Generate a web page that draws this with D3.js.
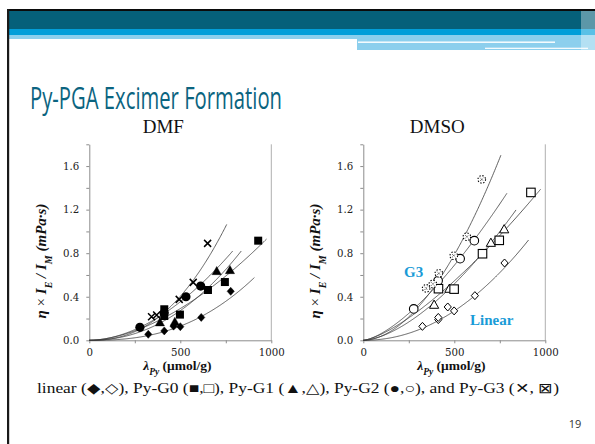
<!DOCTYPE html>
<html><head><meta charset="utf-8">
<script src="https://cdn.jsdelivr.net/npm/d3@7"></script>
<style>body{margin:0;background:#fff}svg{display:block}</style>
</head><body>
<svg id="slide" width="595" height="444"></svg>
<script>
// ---- data: DMF (filled markers) ----
const dmfLinearX = [324, 412, 463, 500, 615, 777];
const dmfLinearY = [0.055, 0.086, 0.13, 0.125, 0.21, 0.45];
const dmfG0X = [412, 412, 498, 652, 745, 928];
const dmfG0Y = [0.285, 0.223, 0.236, 0.462, 0.535, 0.915];
const dmfG1X = [388, 470, 700, 773];
const dmfG1Y = [0.165, 0.17, 0.636, 0.645];
const dmfG2X = [278, 411, 531, 612];
const dmfG2Y = [0.119, 0.25, 0.40, 0.498];
const dmfG3X = [342, 370, 494, 571, 650];
const dmfG3Y = [0.217, 0.233, 0.376, 0.532, 0.89];

// ---- data: DMSO (open markers) ----
const dmsoLinearX = [325, 412, 412, 464, 499, 613, 776];
const dmsoLinearY = [0.128, 0.19, 0.21, 0.306, 0.27, 0.41, 0.71];
const dmsoG0X = [413, 499, 655, 747, 921];
const dmsoG0Y = [0.474, 0.47, 0.795, 0.918, 1.358];
const dmsoG1X = [389, 473, 701, 774];
const dmsoG1Y = [0.327, 0.474, 0.896, 1.02];
const dmsoG2X = [277, 411, 532, 610];
const dmsoG2Y = [0.288, 0.548, 0.75, 0.915];
const dmsoG3X = [345, 382, 415, 497, 569, 651];
const dmsoG3Y = [0.477, 0.517, 0.615, 0.777, 0.951, 1.478];

// power-law trendlines through the origin, order: linear, G0, G1, G2, G3
// each given by its end point (x, y) and exponent n:  y(x) = yEnd·(x/xEnd)^n
const dmfTrendEndX = [907, 974, 835, 788, 755];
const dmfTrendEndY = [0.576, 0.93, 0.82, 0.82, 1.064];
const dmfTrendN = [2.5, 1.74, 2.15, 1.85, 2.35];
const dmsoTrendEndX = [908, 974, 839, 789, 756];
const dmsoTrendEndY = [0.921, 1.387, 1.197, 1.35, 1.70];
const dmsoTrendN = [2.06, 1.40, 1.62, 1.476, 1.87];

const xTickValues = [0, 250, 500, 750, 1000];
const xTickLabels = ["0", "", "500", "", "1000"];
const yTickValues = [0, 0.2, 0.4, 0.6, 0.8, 1.0, 1.2, 1.4, 1.6, 1.8];
const yTickLabels = ["0.0", "", "0.4", "", "0.8", "", "1.2", "", "1.6", ""];

const svg = d3.select("#slide");
const serif = "'DejaVu Serif', Georgia, serif";
const times = "'Liberation Serif', 'Times New Roman', serif";

// ---- slide header bands ----
const hdr = svg.append("g");
hdr.append("rect").attr("x", 7).attr("y", 9).attr("width", 588).attr("height", 2.2).attr("fill", "#0b0b0b");
hdr.append("rect").attr("x", 7).attr("y", 11).attr("width", 588).attr("height", 18).attr("fill", "#05607a");
hdr.append("rect").attr("x", 7).attr("y", 29).attr("width", 588).attr("height", 6).attr("fill", "#029ed9");
hdr.append("rect").attr("x", 9).attr("y", 35).attr("width", 348).attr("height", 4).attr("fill", "#8ccfed");
hdr.append("rect").attr("x", 357).attr("y", 35).attr("width", 238).attr("height", 15).attr("fill", "#8ccfed");
hdr.append("rect").attr("x", 358).attr("y", 41.5).attr("width", 197).attr("height", 1.4).attr("fill", "#ffffff");
hdr.append("rect").attr("x", 485).attr("y", 47.7).attr("width", 103).attr("height", 1.2).attr("fill", "#ffffff");
hdr.append("rect").attr("x", 581).attr("y", 11).attr("width", 14).attr("height", 39).attr("fill", "#ffffff").attr("opacity", 0.35);
// left page edge
svg.append("rect").attr("x", 7).attr("y", 9).attr("width", 2.2).attr("height", 435).attr("fill", "#1a1a1a");

// ---- title ----
svg.append("text").attr("x", 30).attr("y", 109)
  .attr("font-family", "'Liberation Sans Narrow', 'Open Sans', 'Noto Sans', sans-serif").attr("font-size", 31)
  .attr("textLength", 252).attr("lengthAdjust", "spacingAndGlyphs")
  .attr("fill", "#0b6480").text("Py-PGA Excimer Formation");

// ---- markers ----
function marker(g, kind, open, x, y) {
  const fill = open ? "#fff" : "#000";
  if (kind === 0) {
    g.append("path").attr("d", `M${x},${y-4}L${x+3.6},${y}L${x},${y+4}L${x-3.6},${y}Z`)
      .attr("fill", fill).attr("stroke", "#000").attr("stroke-width", open ? 1 : 0.5);
  } else if (kind === 1) {
    const s = open ? 8.5 : 8;
    g.append("rect").attr("x", x - s/2).attr("y", y - s/2).attr("width", s).attr("height", s)
      .attr("fill", fill).attr("stroke", "#000").attr("stroke-width", open ? 1.1 : 0);
  } else if (kind === 2) {
    g.append("path").attr("d", `M${x},${y-4.6}L${x+4.6},${y+3.6}L${x-4.6},${y+3.6}Z`)
      .attr("fill", fill).attr("stroke", "#000").attr("stroke-width", open ? 1 : 0.4);
  } else if (kind === 3) {
    g.append("circle").attr("cx", x).attr("cy", y).attr("r", open ? 4.3 : 4.6)
      .attr("fill", fill).attr("stroke", "#000").attr("stroke-width", open ? 1.1 : 0);
  } else {
    if (!open) {
      g.append("path").attr("d", `M${x-3.5},${y-3.5}L${x+3.5},${y+3.5}M${x-3.5},${y+3.5}L${x+3.5},${y-3.5}`)
        .attr("stroke", "#000").attr("stroke-width", 1.5).attr("fill", "none");
    } else {
      g.append("circle").attr("cx", x).attr("cy", y).attr("r", 3.8)
        .attr("fill", "#fff").attr("stroke", "#000").attr("stroke-width", 1.1)
        .attr("stroke-dasharray", "1.4,1.6");
      g.append("path").attr("d", `M${x-1.6},${y-1.6}L${x+1.6},${y+1.6}M${x-1.6},${y+1.6}L${x+1.6},${y-1.6}`)
        .attr("stroke", "#000").attr("stroke-width", 0.8).attr("stroke-dasharray", "1,1").attr("fill", "none");
    }
  }
}

function panel(opts) {
  const x = d3.scaleLinear().domain([0, 1000]).range([opts.left, opts.left + 182]);
  const y = d3.scaleLinear().domain([0, 1.8]).range([340.3, 144.3]);
  const g = svg.append("g");

  // plot frame: right edge
  g.append("line").attr("x1", x(1000)).attr("x2", x(1000)).attr("y1", y(1.8)).attr("y2", y(0))
    .attr("stroke", "#b0b0b0").attr("stroke-width", 1);

  const ax = g.append("g").attr("transform", `translate(0,${y(0)})`)
    .call(d3.axisBottom(x).tickValues(xTickValues).tickSize(3).tickSizeOuter(0)
      .tickFormat((d, i) => xTickLabels[i]));
  const ay = g.append("g").attr("transform", `translate(${x(0)},0)`)
    .call(d3.axisLeft(y).tickValues(yTickValues).tickSize(3).tickSizeOuter(0)
      .tickFormat((d, i) => yTickLabels[i]));
  [ax, ay].forEach(a => {
    a.select(".domain").attr("stroke", "#8c8c8c");
    a.selectAll(".tick line").attr("stroke", "#8c8c8c");
    a.selectAll("text").attr("font-family", serif).attr("font-size", 10.2).attr("fill", "#222");
  });
  ax.selectAll("text").attr("dy", "0.95em");
  ay.selectAll("text").attr("dx", "-0.4em");

  // trendlines
  const line = d3.line().x(d => x(d[0])).y(d => y(d[1]));
  for (let k = 0; k < 5; k++) {
    const xe = opts.endX[k], ye = opts.endY[k], n = opts.n[k];
    const pts = d3.range(0, 201).map(i => {
      const xv = xe * i / 200;
      return [xv, ye * Math.pow(xv / xe, n)];
    });
    g.append("path").attr("d", line(pts)).attr("fill", "none")
      .attr("stroke", "#3a3a3a").attr("stroke-width", 0.8);
  }

  // markers (G2 first so overlapping squares sit above it)
  const order = [3, 0, 2, 1, 4];
  order.forEach(k => {
    const xs = opts.xs[k], ys = opts.ys[k];
    xs.forEach((v, i) => marker(g, k, opts.open, x(v), y(ys[i])));
  });

  // panel heading
  svg.append("text").attr("x", x(500) - 17).attr("y", 133).attr("text-anchor", "middle")
    .attr("font-family", times).attr("font-size", 19).attr("fill", "#111").text(opts.title);

  // y axis label
  const yl = svg.append("text").attr("transform", `translate(${opts.left - 43},261) rotate(-90)`)
    .attr("text-anchor", "middle").attr("font-family", times).attr("font-size", 15)
    .attr("font-weight", "bold").attr("font-style", "italic").attr("fill", "#111");
  yl.append("tspan").text("η ");
  yl.append("tspan").attr("font-style", "normal").attr("font-weight", "normal").text("× ");
  yl.append("tspan").text("I");
  yl.append("tspan").attr("font-size", 10).attr("baseline-shift", "sub").text("E");
  yl.append("tspan").text(" / I");
  yl.append("tspan").attr("font-size", 10).attr("baseline-shift", "sub").text("M");
  yl.append("tspan").text(" (mPa·s)");

  // x axis label
  const xl = svg.append("text").attr("x", x(500) - 3).attr("y", 370).attr("text-anchor", "middle")
    .attr("font-family", times).attr("font-size", 13.5).attr("font-weight", "bold").attr("fill", "#111");
  xl.append("tspan").attr("font-style", "italic").text("λ");
  xl.append("tspan").attr("font-style", "italic").attr("font-size", 9.5).attr("baseline-shift", "sub").text("Py");
  xl.append("tspan").text(" (μmol/g)");
  return { x, y };
}

panel({ left: 89.3, title: "DMF", open: false,
  xs: [dmfLinearX, dmfG0X, dmfG1X, dmfG2X, dmfG3X],
  ys: [dmfLinearY, dmfG0Y, dmfG1Y, dmfG2Y, dmfG3Y],
  endX: dmfTrendEndX, endY: dmfTrendEndY, n: dmfTrendN });
panel({ left: 363.3, title: "DMSO", open: true,
  xs: [dmsoLinearX, dmsoG0X, dmsoG1X, dmsoG2X, dmsoG3X],
  ys: [dmsoLinearY, dmsoG0Y, dmsoG1Y, dmsoG2Y, dmsoG3Y],
  endX: dmsoTrendEndX, endY: dmsoTrendEndY, n: dmsoTrendN });

// series callouts on the DMSO panel
svg.append("text").attr("x", 404).attr("y", 277).attr("font-family", times)
  .attr("font-size", 15).attr("font-weight", "bold").attr("fill", "#1a9bd7").text("G3");
svg.append("text").attr("x", 470).attr("y", 325).attr("font-family", times)
  .attr("font-size", 15).attr("font-weight", "bold").attr("fill", "#1a9bd7").text("Linear");

// caption
svg.append("text").attr("x", 37).attr("y", 393).attr("font-family", times)
  .attr("font-size", 14).attr("fill", "#111").attr("textLength", 522).attr("lengthAdjust", "spacingAndGlyphs")
  .text("linear (◆,◇), Py-G0 (■,□), Py-G1 (▲,△), Py-G2 (●,○), and Py-G3 (✕, ⊠)");

// page number
svg.append("text").attr("x", 575).attr("y", 428).attr("text-anchor", "middle")
  .attr("font-family", "'Open Sans', sans-serif").attr("font-size", 11).attr("fill", "#333").text("19");
</script>
</body></html>
